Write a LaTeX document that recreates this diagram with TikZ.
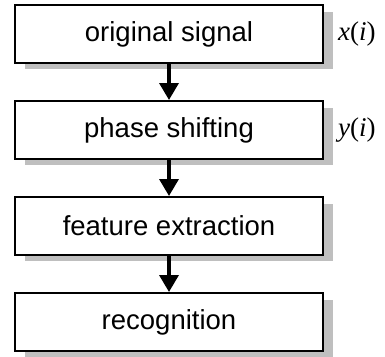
\documentclass[tikz,border=0pt]{standalone}
\usepackage{fontspec}
\setmainfont{Liberation Sans}
\newfontfamily\lblfont{Liberation Serif}
\usetikzlibrary{arrows.meta}
\tikzset{
  stage/.style={draw=black, line width=2pt, fill=white, minimum width=308pt, minimum height=58pt, inner sep=0pt, font=\fontsize{27.5}{30}\selectfont},
  flow/.style={line width=3.5pt, -{Triangle[length=17pt,width=19pt]}},
  sig/.style={font=\lblfont\fontsize{27}{29}\selectfont, inner sep=0pt}
}
\begin{document}
\begin{tikzpicture}[x=1pt,y=-1pt]
\useasboundingbox (0,0) rectangle (385,356);
\foreach \t in {5,101,197,293}{
  \fill[black!25] (25,\t+7) rectangle (333,\t+64);
}
\node[stage] (a) at (169,34) {original signal};
\node[stage] (b) at (169,130) {phase shifting};
\node[stage] (c) at (169,226) {feature extraction};
\node[stage] (d) at (169,322) {recognition};
\draw[flow] (a) -- (b);
\draw[flow] (b) -- (c);
\draw[flow] (c) -- (d);
\node[sig, anchor=west] (xl) at (338,34) {\textit{x}(\textit{i})};
\node[sig, anchor=west] (yl) at (338,130) {\textit{y}(\textit{i})};
\end{tikzpicture}
\end{document}
